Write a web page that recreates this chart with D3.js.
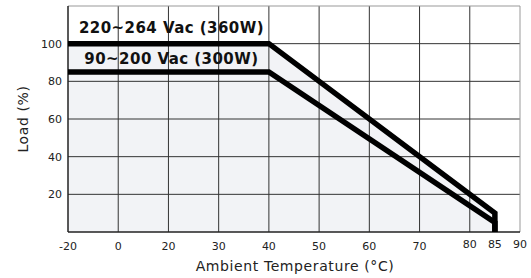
<!DOCTYPE html>
<html>
<head>
<meta charset="utf-8">
<script src="https://cdn.jsdelivr.net/npm/d3@7"></script>
<style>
  body { margin: 0; background: #fff; }
  svg { display: block; font-family: "DejaVu Sans", Verdana, sans-serif; }
</style>
</head>
<body>
<div id="chart"></div>
<script>
// derating curve data
var xTicks = [-20, 0, 20, 30, 40, 50, 60, 70, 80, 90]
var xLabels = [-20, 0, 20, 30, 40, 50, 60, 70, 80, 85, 90]
var yTicks = [20, 40, 60, 80, 100]
var temps = [-20, 40, 85, 85]
var loadHigh = [100, 100, 10, 0]
var loadLow = [85, 85, 5, 0]
var seriesNames = ["220~264 Vac (360W)", "90~200 Vac (300W)"]

var width = 531, height = 278
var plotLeft = 68, plotRight = 520, plotTop = 6, plotBottom = 232

var svg = d3.select("#chart").append("svg")
    .attr("width", width)
    .attr("height", height)

// x axis is not linear: grid columns are equally spaced
var xScale = d3.scaleLinear()
    .domain(xTicks)
    .range(xTicks.map((d, i) => plotLeft + i * (plotRight - plotLeft) / (xTicks.length - 1)))

var yScale = d3.scaleLinear()
    .domain([0, 120])
    .range([plotBottom, plotTop])

var toPts = (ys) => temps.map((t, i) => [t, ys[i]])

// gray area under the upper curve
var area = d3.area()
    .x(d => xScale(d[0]))
    .y0(yScale(0))
    .y1(d => yScale(d[1]))

svg.append("path")
    .attr("d", area(toPts(loadHigh)))
    .style("fill", "#f2f3f6")

// grid
var grid = svg.append("g").attr("class", "grid")
grid.selectAll(".vline")
    .data(xTicks.slice(1, -1)).enter()
    .append("line")
    .attr("x1", d => xScale(d)).attr("x2", d => xScale(d))
    .attr("y1", yScale(0)).attr("y2", yScale(120))
    .style("stroke", "#333").style("stroke-width", 1)
grid.selectAll(".hline")
    .data(yTicks).enter()
    .append("line")
    .attr("x1", xScale(-20)).attr("x2", xScale(90))
    .attr("y1", d => yScale(d)).attr("y2", d => yScale(d))
    .style("stroke", "#333").style("stroke-width", 1)

// frame
svg.append("line")
    .attr("x1", xScale(-20)).attr("x2", xScale(90))
    .attr("y1", yScale(120)).attr("y2", yScale(120))
    .style("stroke", "#999")
svg.append("line")
    .attr("x1", xScale(90)).attr("x2", xScale(90))
    .attr("y1", yScale(120)).attr("y2", yScale(0))
    .style("stroke", "#999")
svg.append("line")
    .attr("x1", xScale(-20)).attr("x2", xScale(-20))
    .attr("y1", yScale(120)).attr("y2", yScale(0))
    .style("stroke", "#222").style("stroke-width", 1.5)
svg.append("line")
    .attr("x1", xScale(-20)).attr("x2", xScale(90))
    .attr("y1", yScale(0)).attr("y2", yScale(0))
    .style("stroke", "#222").style("stroke-width", 1.5)

// curves
var line = d3.line()
    .x(d => xScale(d[0]))
    .y(d => yScale(d[1]))

svg.append("g").attr("class", "lines")
    .selectAll("path")
    .data([loadHigh, loadLow]).enter()
    .append("path")
    .attr("d", d => line(toPts(d)))
    .style("fill", "none")
    .style("stroke", "#000")
    .style("stroke-width", 5.5)
    .style("stroke-linejoin", "miter")

// series labels
var labelX = (xScale(-20) + xScale(40)) / 2 + 3
svg.selectAll(".series-label")
    .data(seriesNames).enter()
    .append("text")
    .attr("class", "series-label")
    .attr("x", labelX)
    .attr("y", (d, i) => yScale([105.7, 89.3][i]))
    .attr("text-anchor", "middle")
    .style("font-weight", "bold")
    .style("font-size", "15px")
    .style("letter-spacing", "0.45px")
    .style("fill", "#111")
    .text(d => d)

// tick labels
svg.selectAll(".ylab")
    .data(yTicks).enter()
    .append("text")
    .attr("x", plotLeft - 6)
    .attr("y", d => yScale(d))
    .attr("dy", "0.35em")
    .attr("text-anchor", "end")
    .style("font-size", "11px")
    .style("fill", "#222")
    .text(d => d)

svg.selectAll(".xlab")
    .data(xLabels).enter()
    .append("text")
    .attr("x", d => xScale(d))
    .attr("y", d => d >= 80 ? 248 : 250)
    .attr("text-anchor", "middle")
    .style("font-size", "11px")
    .style("fill", "#222")
    .text(d => d)

// axis titles
svg.append("text")
    .attr("x", (plotLeft + plotRight) / 2 + 1)
    .attr("y", 271)
    .attr("text-anchor", "middle")
    .style("font-size", "14px")
    .style("letter-spacing", "0.6px")
    .style("fill", "#222")
    .text("Ambient Temperature (°C)")

svg.append("text")
    .attr("transform", `translate(28, ${(plotTop + plotBottom) / 2}) rotate(-90)`)
    .attr("text-anchor", "middle")
    .style("font-size", "14px")
    .style("letter-spacing", "0.6px")
    .style("fill", "#222")
    .text("Load (%)")
</script>
</body>
</html>
